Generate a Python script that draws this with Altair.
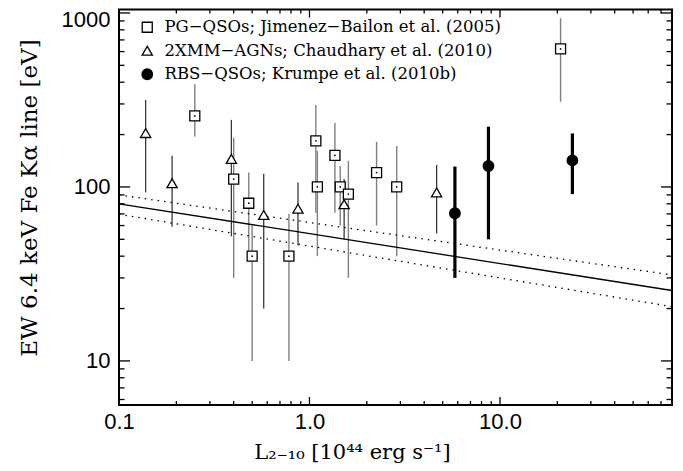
import altair as alt
import pandas as pd

# ---------------- data ----------------
series_names = [
    "PG\u2212QSOs; Jimenez\u2212Bailon et al. (2005)",
    "2XMM\u2212AGNs; Chaudhary et al. (2010)",
    "RBS\u2212QSOs; Krumpe et al. (2010b)",
]
series_shapes = ["square", "triangle-up", "circle"]
series_fills = ["white", "white", "black"]
series_strokes = ["black", "black", "black"]
series_sizes = [100, 110, 180]

pg_L = [0.25, 0.40, 0.48, 0.50, 0.78, 1.08, 1.10, 1.36, 1.45, 1.60, 2.25, 2.87, 20.8]
pg_EW = [256, 111, 80.6, 40, 40, 184, 100, 152, 100, 91, 121, 100, 621]
pg_lo = [195, 30, 43, 10, 10, 71, 40, 71, 60, 30, 60, 40, 309]
pg_hi = [389, 192, 121, 60, 70, 296, 161, 234, 132, 141, 182, 172, 933]

xmm_L = [0.138, 0.19, 0.389, 0.575, 0.87, 1.52, 4.65]
xmm_EW = [204, 105, 145, 69, 75, 79.5, 93]
xmm_lo = [93, 59, 52, 20, 46, 50, 54]
xmm_hi = [316, 151, 243, 119, 106, 111, 134]

rbs_L = [5.8, 8.7, 24.0]
rbs_EW = [70.6, 132, 142]
rbs_lo = [30, 50, 91]
rbs_hi = [131, 222, 203]

fit_L = [0.1, 80]
fit_mid = [80, 25.4]
fit_upper = [90, 31.2]
fit_lower = [69.7, 20.5]

x_major = [0.1, 1, 10]
x_minor = [0.2, 0.3, 0.4, 0.5, 0.6, 0.7, 0.8, 0.9, 2, 3, 4, 5, 6, 7, 8, 9, 20, 30, 40, 50, 60, 70]
y_major = [10, 100, 1000]
y_minor = [6, 7, 8, 9, 20, 30, 40, 50, 60, 70, 80, 90, 200, 300, 400, 500, 600, 700, 800, 900]

x_domain = [0.1, 80]
y_domain = [5.58, 1047]

x_title = "L\u2082\u208b\u2081\u2080 [10\u2074\u2074 erg s\u207b\u00b9]"
y_title = "EW 6.4 keV Fe K\u03b1 line [eV]"


def table(name, L, EW, lo, hi):
    return pd.DataFrame({"series": name, "L": L, "EW": EW, "lo": lo, "hi": hi})


pg = table(series_names[0], pg_L, pg_EW, pg_lo, pg_hi)
xmm = table(series_names[1], xmm_L, xmm_EW, xmm_lo, xmm_hi)
rbs = table(series_names[2], rbs_L, rbs_EW, rbs_lo, rbs_hi)
pts = pd.concat([pg, xmm, rbs], ignore_index=True)
fit = pd.DataFrame({"L": fit_L, "mid": fit_mid, "upper": fit_upper, "lower": fit_lower})

W, H = 553, 395.5
xs = alt.Scale(type="log", domain=x_domain, nice=False)
ys = alt.Scale(type="log", domain=y_domain, nice=False)

serif = "DejaVu Serif"
sans = "Liberation Sans"

ax_x = alt.Axis(
    values=x_major, format=".1f", title=x_title,
    ticks=False, domain=False, grid=False,
    labelFont=sans, labelFontSize=22, labelColor="black", labelPadding=6,
    labelFlush=False,
    titleFont=serif, titleFontSize=21, titleFontWeight="normal", titleColor="black",
    titleX=233, titleY=47, titleBaseline="middle", titleAlign="center")
ax_y = alt.Axis(
    values=y_major, format="d", title=y_title,
    ticks=False, domain=False, grid=False,
    labelFont=sans, labelFontSize=22, labelColor="black", labelPadding=9,
    labelFlush=False,
    labelOffset=alt.condition("datum.value == 1000", alt.value(7), alt.value(0)),
    titleFont=serif, titleFontSize=23, titleFontWeight="normal", titleColor="black",
    titleX=-90, titleY=188, titleBaseline="middle", titleAlign="center", titleAngle=-90)


def X(f):
    return alt.X(f, type="quantitative", scale=xs, axis=ax_x, title=x_title)


def Y(f):
    return alt.Y(f, type="quantitative", scale=ys, axis=ax_y, title=y_title)


# error bars
bars_pg = alt.Chart(pg).mark_rule(color="#808080", strokeWidth=1.4).encode(
    x=X("L"), y=Y("lo"), y2="hi")
bars_xmm = alt.Chart(xmm).mark_rule(color="#3a3a3a", strokeWidth=1.3).encode(
    x=X("L"), y=Y("lo"), y2="hi")
bars_rbs = alt.Chart(rbs).mark_rule(color="black", strokeWidth=3.2).encode(
    x=X("L"), y=Y("lo"), y2="hi")

# fit lines
line_mid = alt.Chart(fit).mark_line(color="black", strokeWidth=1.3).encode(x=X("L"), y=Y("mid"))
line_up = alt.Chart(fit).mark_line(color="black", strokeWidth=1.3, strokeDash=[1.5, 5]).encode(
    x=X("L"), y=Y("upper"))
line_lo = alt.Chart(fit).mark_line(color="black", strokeWidth=1.3, strokeDash=[1.5, 5]).encode(
    x=X("L"), y=Y("lower"))

leg = alt.Legend(
    orient="none", legendX=20, legendY=9.5, title=None, direction="vertical",
    labelFont=serif, labelFontSize=16.5, labelColor="black", labelOffset=9,
    labelLimit=600, rowPadding=6.5, padding=0, symbolStrokeWidth=1.3,
)

points = alt.Chart(pts).mark_point(
    filled=True, strokeWidth=1.3, opacity=1
).encode(
    x=X("L"),
    y=Y("EW"),
    shape=alt.Shape("series:N", scale=alt.Scale(domain=series_names, range=series_shapes), legend=leg),
    fill=alt.Fill("series:N", scale=alt.Scale(domain=series_names, range=series_fills), legend=leg),
    stroke=alt.Stroke("series:N", scale=alt.Scale(domain=series_names, range=series_strokes), legend=leg),
    size=alt.Size("series:N", scale=alt.Scale(domain=series_names, range=series_sizes), legend=leg),
)

dots = alt.Chart(pg).mark_circle(color="black", size=3, opacity=1).encode(x=X("L"), y=Y("EW"))

# inward ticks on all four sides
ymaj = pd.DataFrame({"v": y_major})
ymin = pd.DataFrame({"v": y_minor})
xmaj = pd.DataFrame({"v": x_major})
xmin = pd.DataFrame({"v": x_minor})


def yticks(df, length):
    left = alt.Chart(df).mark_rule(color="black", strokeWidth=1.3).encode(
        y=Y("v"), x=alt.value(0), x2=alt.value(length))
    right = alt.Chart(df).mark_rule(color="black", strokeWidth=1.3).encode(
        y=Y("v"), x=alt.value(W), x2=alt.value(W - length))
    return [left, right]


def xticks(df, length):
    bottom = alt.Chart(df).mark_rule(color="black", strokeWidth=1.3).encode(
        x=X("v"), y=alt.value(H), y2=alt.value(H - length))
    top = alt.Chart(df).mark_rule(color="black", strokeWidth=1.3).encode(
        x=X("v"), y=alt.value(0), y2=alt.value(length))
    return [bottom, top]


tick_layers = yticks(ymaj, 11) + yticks(ymin, 5.5) + xticks(xmaj, 8) + xticks(xmin, 4)

chart = alt.layer(
    bars_pg, bars_xmm, bars_rbs, line_mid, line_up, line_lo, points, dots, *tick_layers
).properties(
    width=W, height=H,
    padding={"left": 111, "top": 1.5, "right": 3, "bottom": 58},
    autosize=alt.AutoSizeParams(type="none"),
    background="white",
).configure_view(
    stroke="black", strokeWidth=2
)

chart.save("out.html", embed_options={"renderer": "svg", "actions": False})
